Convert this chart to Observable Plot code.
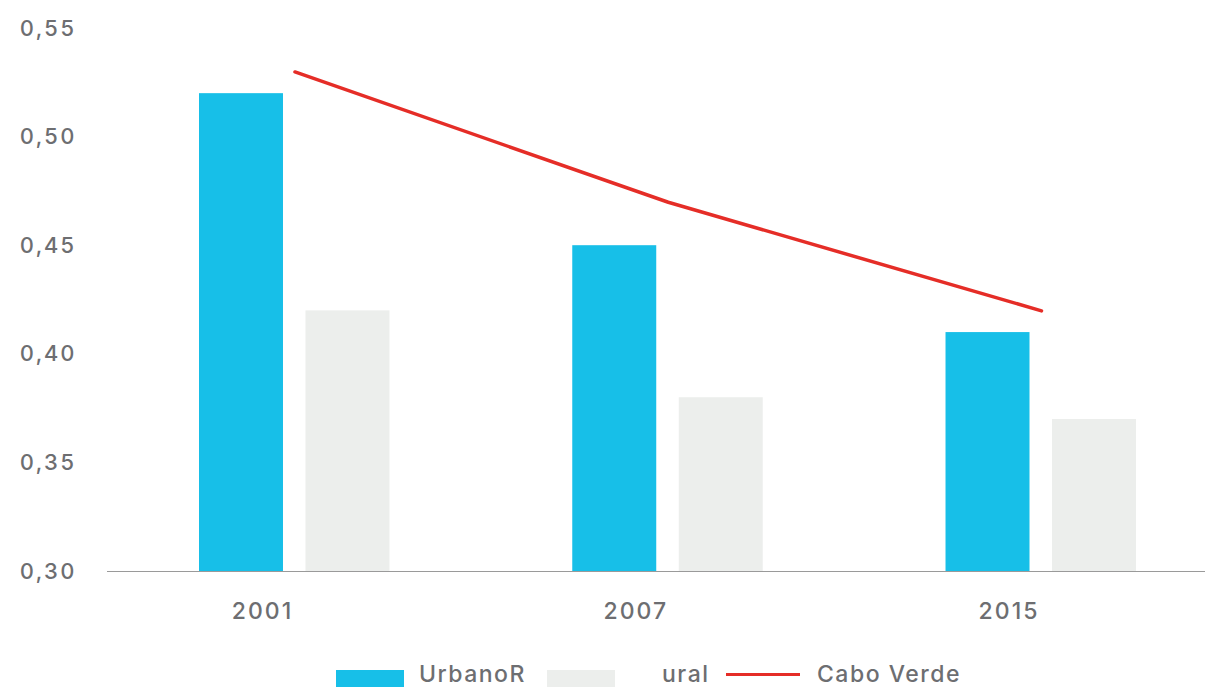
<!DOCTYPE html>
<html>
<head>
<meta charset="utf-8">
<script src="https://cdn.jsdelivr.net/npm/d3@7"></script>
<script src="https://cdn.jsdelivr.net/npm/@observablehq/plot@0.6"></script>
<style>
  html, body { margin: 0; padding: 0; background: #fff; }
  body { width: 1217px; height: 687px; overflow: hidden; font-family: Inter, sans-serif; }
  #chart { position: relative; width: 1217px; height: 660px; }
  #chart svg text { letter-spacing: 2px; font-weight: 500; }
  #legend { display: flex; align-items: center; height: 27px; padding-left: 336px; color: #6d6e71; font-size: 23px; font-weight: 500; letter-spacing: 1.5px; font-family: Inter, sans-serif; white-space: nowrap; }
  #legend span { display: inline-block; }
  .sw { width: 68px; height: 20px; margin-top: 12px; flex: none; }
  .ln { width: 74px; height: 3px; background: #e52d27; margin-top: 2px; flex: none; }
</style>
</head>
<body>
<div id="chart"></div>
<div id="legend">
  <div class="sw" style="background:#17bfe8"></div>
  <span style="margin-left:15px;width:113px">UrbanoR</span>
  <div class="sw" style="background:#eceeec;margin-left:15px"></div>
  <span style="margin-left:47px;width:44px">ural</span>
  <div class="ln" style="margin-left:20px"></div>
  <span style="margin-left:17px">Cabo Verde</span>
</div>
<script>
const years = ["2001", "2007", "2015"];
const urbano = [0.52, 0.45, 0.41];
const rural = [0.42, 0.38, 0.37];
const caboVerde = [0.53, 0.47, 0.42];
const yTicks = [0.30, 0.35, 0.40, 0.45, 0.50, 0.55];

const urbanoData = years.map((y, i) => ({year: y, value: urbano[i]}));
const ruralData = years.map((y, i) => ({year: y, value: rural[i]}));
const lineData = years.map((y, i) => ({year: y, value: caboVerde[i]}));

const fmt = d => d3.format(".2f")(d).replace(".", ",");

const plot = Plot.plot({
  width: 1217,
  height: 660,
  marginTop: 28,
  marginBottom: 89,
  marginLeft: 107,
  marginRight: 12,
  style: {fontFamily: "Inter, sans-serif", fontSize: "20px", color: "#6d6e71", background: "#fff"},
  x: {type: "band", domain: years, range: [252.5, 1083], paddingInner: 0.775, paddingOuter: 0, round: false, label: null},
  y: {domain: [0.30, 0.55], label: null},
  marks: [
    Plot.barY(urbanoData, {x: "year", y1: 0.30, y2: "value", fill: "#17bfe8", dx: -53.5}),
    Plot.barY(ruralData, {x: "year", y1: 0.30, y2: "value", fill: "#eceeec", dx: 53}),
    Plot.ruleY([0.30], {stroke: "#9a9a9a", strokeWidth: 1}),
    Plot.line(lineData, {x: "year", y: "value", stroke: "#e52d27", strokeWidth: 3.5}),
    Plot.axisY({ticks: yTicks, tickFormat: fmt, tickSize: 0, tickPadding: 31, fill: "#6d6e71", fontSize: 22}),
    Plot.axisX({tickSize: 0, tickPadding: 31, dx: -32.5, fill: "#6d6e71", fontSize: 23})
  ]
});
document.getElementById("chart").appendChild(plot);
</script>
</body>
</html>
